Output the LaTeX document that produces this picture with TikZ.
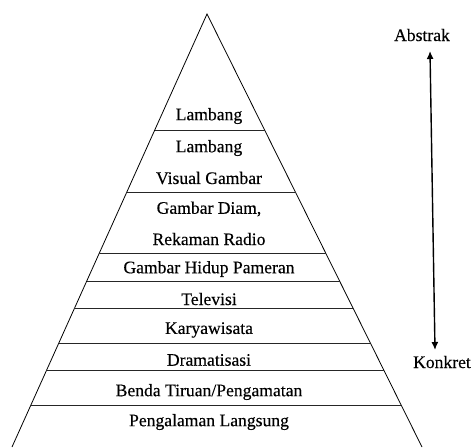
\documentclass[tikz,border=0pt]{standalone}
\usepackage{fontspec}
\setmainfont[FakeBold=0.3]{Liberation Serif}
\usetikzlibrary{calc,arrows.meta}

\begin{document}
\begin{tikzpicture}[x=1pt, y=-1pt,
		level/.style={inner sep=0pt, font=\fontsize{17.6}{20}\selectfont},
		divider/.style={draw=black!85, line width=0.8pt}]
		\useasboundingbox (0, 0) rectangle (471, 447);
		\clip (0, 0) rectangle (471, 447);
		% pyramid outline
		\coordinate (apex) at (207, 14);
		\coordinate (baseL) at (12, 447);
		\coordinate (baseR) at (422, 447);
		\draw [line width=0.8pt] (baseL) -- (apex) -- (baseR);
		% layer dividers
		\foreach \t in {0.268, 0.413, 0.554, 0.617, 0.681, 0.760, 0.824, 0.903}
			\draw [divider] ($(apex)!\t!(baseL)$) -- ($(apex)!\t!(baseR)$);
		% layer labels
		\node [level] (lambangA) at (209, 116) {Lambang};
		\node [level] (lambangB) at (209, 148) {Lambang};
		\node [level] (visual) at (209, 178) {Visual Gambar};
		\node [level] (diam) at (209, 209) {Gambar Diam,};
		\node [level] (radio) at (209, 239) {Rekaman Radio};
		\node [level] (hidup) at (209, 269) {Gambar Hidup Pameran};
		\node [level] (tv) at (209, 299) {Televisi};
		\node [level] (wisata) at (209, 330) {Karyawisata};
		\node [level] (drama) at (209, 360) {Dramatisasi};
		\node [level] (tiruan) at (209, 392) {Benda Tiruan/Pengamatan};
		\node [level] (langsung) at (209, 422) {Pengalaman Langsung};
		% scale from abstract to concrete
		\node [level] (abstrak) at (422, 35) {Abstrak};
		\node [level] (konkret) at (442, 362) {Konkret};
		\coordinate (top) at (430, 51);
		\coordinate (bottom) at (435, 350);
		\draw [line width=1.4pt, {Latex[length=8pt, width=7pt]}-{Latex[length=8pt, width=7pt]}] (top) -- (bottom);
	\end{tikzpicture}
\end{document}
